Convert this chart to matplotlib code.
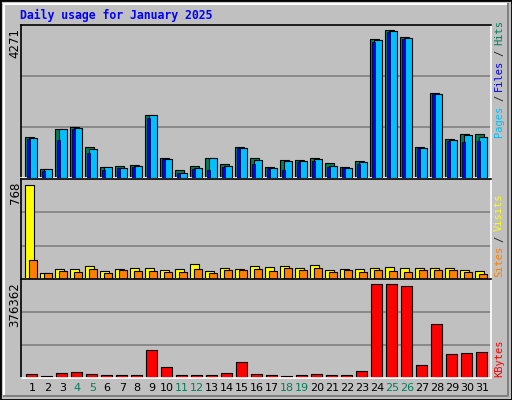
import matplotlib
matplotlib.use("Agg")
import matplotlib.pyplot as plt
from matplotlib.patches import Rectangle

days = list(range(1, 32))
weekend_days = [4, 5, 11, 12, 18, 19, 25, 26]
hits = [1179, 242, 1411, 1469, 889, 309, 338, 367, 1817, 570, 222, 338, 570, 396, 889, 570,
        309, 512, 512, 570, 425, 309, 483, 3991, 4271, 4049, 889, 2454, 1121, 1266, 1266]
pages = [1150, 242, 1411, 1440, 831, 309, 280, 338, 1817, 541, 135, 280, 570, 338, 860, 512,
         280, 483, 483, 541, 338, 280, 454, 3962, 4242, 4020, 860, 2425, 1092, 1237, 1179]
files = [1121, 193, 1092, 1411, 715, 222, 280, 309, 1730, 541, 135, 251, 222, 309, 860, 396,
         280, 222, 454, 483, 309, 280, 396, 3904, 4194, 3991, 860, 2425, 1063, 1034, 1063]
visits = [768, 47, 83, 78, 103, 61, 78, 86, 86, 70, 78, 120, 61, 86, 78, 103,
          95, 103, 86, 111, 70, 78, 78, 86, 95, 86, 86, 86, 86, 70, 61]
sites = [153, 45, 61, 53, 78, 45, 70, 61, 61, 53, 53, 78, 45, 70, 70, 78,
         61, 86, 70, 86, 53, 70, 53, 70, 61, 53, 70, 70, 70, 53, 36]
kbytes = [13736, 6868, 17856, 21977, 13736, 9615, 9615, 9615, 112635, 42581, 9615, 9615, 9615,
          17856, 63187, 13736, 9615, 6868, 9615, 13736, 9615, 9615, 26098, 376362, 376362,
          368121, 50822, 215667, 96153, 100274, 104395]

BG = "#C0C0C0"
W, H = 512, 400
fig = plt.figure(figsize=(5.12, 4.0), dpi=100, facecolor=BG)

def ax_at(x0, y0, x1, y1):
    return fig.add_axes([x0 / W, 1 - y1 / H, (x1 - x0) / W, (y1 - y0) / H])

def style(ax, vmax, base_px, top_px, val_px):
    ax.set_facecolor(BG)
    ax.set_xlim(0.293, 31.627)
    scale = vmax / (base_px - val_px)
    ax.set_ylim(-scale * 0.3, scale * (base_px - top_px))
    ax.set_xticks([]); ax.set_yticks([])
    lo, hi = ax.get_ylim()
    for f in (1/3, 2/3):
        ax.axhline(lo + f * (hi - lo), color="#808080", lw=1.2, zorder=0.5)
    ax.spines["left"].set_color("black"); ax.spines["top"].set_color("black")
    ax.spines["right"].set_color("white"); ax.spines["bottom"].set_color("white")
    for s in ax.spines.values():
        s.set_linewidth(1.2)

kw = dict(edgecolor="black", linewidth=0.8, align="edge")
ax1 = ax_at(20.7, 25, 490.7, 178)
style(ax1, max(hits), 176.7, 25, 29.5)
ax1.bar([d - 0.42 for d in days], hits, width=0.6, color="#00805C", **kw)
ax1.bar([d - 0.153 for d in days], pages, width=0.51, color="#00C0FF", **kw, zorder=3)
ax1.bar([d - 0.307 for d in days], files, width=0.2, color="#0000FF", edgecolor="black", linewidth=0.5, align="edge", zorder=4)

ax2 = ax_at(20.7, 179, 490.7, 279)
style(ax2, max(visits), 276.7, 179, 184.7)
ax2.bar([d - 0.42 for d in days], visits, width=0.58, color="#FFFF00", **kw)
ax2.bar([d - 0.153 for d in days], sites, width=0.51, color="#FF8000", **kw, zorder=3)

ax3 = ax_at(20.7, 279, 490.7, 378)
style(ax3, max(kbytes), 375.7, 279, 284.3)
ax3.bar([d - 0.353 for d in days], kbytes, width=0.71, color="#FF0000", **kw)

mono = "DejaVu Sans Mono"
fig.text(20 / W, 1 - 15 / H, "Daily usage for January 2025", color="#0000FF", fontsize=8.3,
         fontweight="bold", family=mono, va="center", ha="left")

def ylab(txt, ypx):
    fig.text(15 / W, 1 - ypx / H, txt, rotation=90, fontsize=8.5, family="DejaVu Sans",
             ha="center", va="top", color="black")
ylab(f"{max(hits)}", 28)
ylab(f"{max(visits)}", 182)
ylab(f"{max(kbytes)}", 282)

def rlab(parts, ybottom):
    y = ybottom
    for txt, col in parts:
        fig.text(499 / W, 1 - y / H, txt, rotation=90, fontsize=7.5, family=mono,
                 color=col, ha="center", va="bottom")
        y -= len(txt) * 6.3 + 4
rlab([("Pages", "#00C0FF"), ("/", "#202020"), ("Files", "#0000FF"), ("/", "#202020"), ("Hits", "#00805C")], 137)
rlab([("Sites", "#FF8000"), ("/", "#202020"), ("Visits", "#FFFF00")], 277)
rlab([("KBytes", "#FF0000")], 377)

for d in days:
    xf = (20.7 + (d + 0.06 - 0.293) * 15) / W
    fig.text(xf, 1 - 388 / H, str(d), fontsize=8, ha="center", va="center",
             color="#00805C" if d in weekend_days else "black")

fig.patches.append(Rectangle((0, 0), 1, 1, transform=fig.transFigure, fill=False, edgecolor="black", lw=2))
fig.patches.append(Rectangle((4 / W, 4 / H), 1 - 8 / W, 1 - 8 / H, transform=fig.transFigure, fill=False, edgecolor="white", lw=1.5))
fig.lines.append(plt.Line2D([4 / W, 1 - 4 / W, 1 - 4 / W], [4 / H, 4 / H, 1 - 4 / H], transform=fig.transFigure, color="#808080", lw=1.5))

fig.savefig("out.png", dpi=100, facecolor=BG)
